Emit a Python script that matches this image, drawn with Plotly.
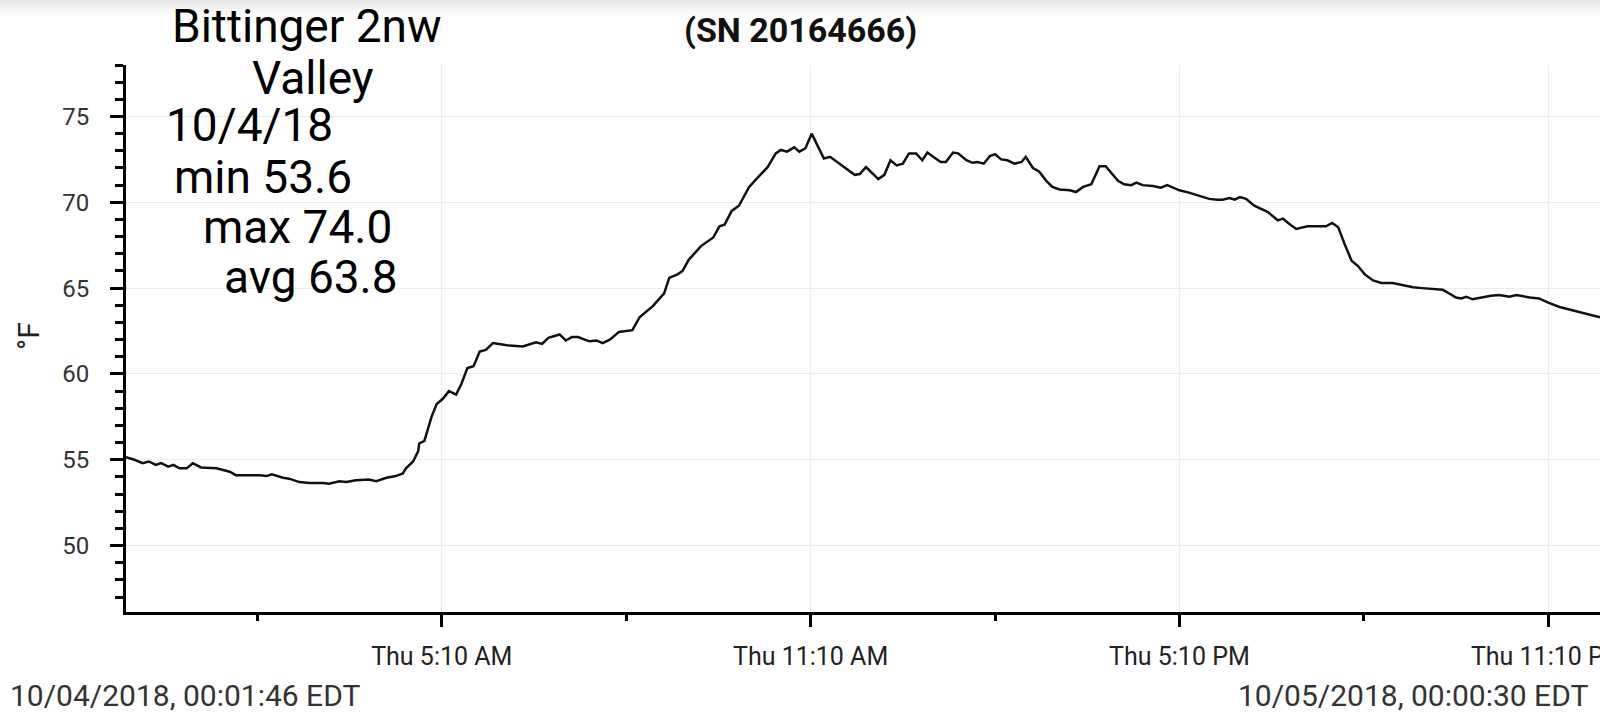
import pandas as pd
import plotly.graph_objects as go

# minutes after midnight on 10/04/2018, and logged temperature (°F)
minutes = [1.77, 10, 18, 24, 31, 36, 43, 48, 54, 61, 67, 75, 90, 96, 103, 109, 132, 139, 144, 155,
           161, 171, 181, 194, 200, 210, 217, 226, 239, 246, 256, 265, 272, 275, 282, 287, 288, 293,
           300, 305, 311, 317, 324, 329, 335, 341, 347, 353, 360, 366, 376, 389, 402, 408, 414, 425,
           431, 437, 443, 454, 461, 467, 474, 483, 496, 503, 516, 527, 532, 540, 545, 551, 563, 575,
           581, 586, 593, 600, 610, 617, 628, 636, 641, 647, 654, 659, 665, 671, 683, 689, 695, 713,
           718, 724, 731, 736, 742, 748, 754, 760, 766, 773, 779, 784, 791, 797, 802, 809, 814, 822,
           828, 833, 839, 845, 850, 856, 862, 869, 876, 880, 887, 893, 900, 906, 913, 923, 929, 936,
           944, 952, 958, 963, 970, 976, 983, 988, 994, 1004, 1012, 1018, 1030, 1040, 1050, 1059,
           1067, 1072, 1079, 1084, 1089, 1095, 1103, 1111, 1116, 1126, 1131, 1137, 1144, 1155, 1173,
           1179, 1185, 1191, 1198, 1204, 1211, 1219, 1227, 1238, 1245, 1251, 1258, 1267, 1274, 1287,
           1293, 1300, 1305, 1310, 1316, 1324, 1334, 1342, 1352, 1359, 1372, 1381, 1390, 1401, 1414,
           1424, 1433, 1440.5]
temp_f = [55.15, 55.0, 54.8, 54.9, 54.7, 54.8, 54.6, 54.7, 54.5, 54.5, 54.8, 54.55, 54.5, 54.4,
          54.3, 54.1, 54.1, 54.05, 54.15, 53.95, 53.9, 53.7, 53.65, 53.65, 53.6, 53.75, 53.7, 53.8,
          53.85, 53.75, 53.95, 54.05, 54.2, 54.5, 54.9, 55.5, 55.95, 56.1, 57.5, 58.25, 58.55, 59.0,
          58.8, 59.4, 60.35, 60.45, 61.3, 61.4, 61.8, 61.75, 61.65, 61.6, 61.85, 61.75, 62.1, 62.3,
          61.95, 62.15, 62.15, 61.9, 61.95, 61.8, 62.0, 62.45, 62.55, 63.3, 63.95, 64.7, 65.6, 65.8,
          66.0, 66.65, 67.45, 67.95, 68.6, 68.7, 69.5, 69.8, 70.9, 71.35, 72.05, 72.85, 73.05, 72.95,
          73.2, 72.95, 73.15, 74.0, 72.55, 72.65, 72.4, 71.6, 71.65, 72.05, 71.65, 71.35, 71.6, 72.45,
          72.15, 72.25, 72.85, 72.85, 72.45, 72.9, 72.6, 72.35, 72.35, 72.9, 72.85, 72.45, 72.3,
          72.35, 72.25, 72.7, 72.8, 72.5, 72.45, 72.25, 72.35, 72.65, 72.0, 71.8, 71.25, 70.9, 70.75,
          70.7, 70.6, 70.9, 71.05, 72.1, 72.1, 71.75, 71.25, 71.05, 71.0, 71.15, 71.0, 70.95, 70.85,
          71.0, 70.7, 70.55, 70.35, 70.2, 70.15, 70.15, 70.25, 70.15, 70.3, 70.2, 69.8, 69.6, 69.45,
          68.95, 69.05, 68.75, 68.45, 68.6, 68.6, 68.8, 68.55, 67.6, 66.6, 66.3, 65.8, 65.45, 65.3,
          65.3, 65.2, 65.15, 65.05, 65.0, 64.95, 64.9, 64.7, 64.45, 64.4, 64.5, 64.35, 64.45, 64.55,
          64.6, 64.5, 64.6, 64.45, 64.4, 64.15, 63.9, 63.7, 63.55, 63.4, 63.3]

info_lines = ['Bittinger 2nw', 'Valley', '10/4/18', 'min 53.6', 'max 74.0', 'avg 63.8']
serial = '(SN 20164666)'
start_label = '10/04/2018, 00:01:46 EDT'
end_label = '10/05/2018, 00:00:30 EDT'

W, H = 1600, 726
L, R, T, B = 126, 0, 65, 114
pw, ph = W - L - R, H - T - B


def px(x):
    return (x - L) / pw


def py(y):
    return (H - B - y) / ph


times = pd.Timestamp('2018-10-04') + pd.to_timedelta(minutes, unit='min')

fig = go.Figure(go.Scatter(x=times, y=temp_f, mode='lines',
                           line=dict(color='#111111', width=2.5), hoverinfo='x+y'))

fig.update_xaxes(range=['2018-10-04 00:01:46', '2018-10-05 00:00:30'],
                 tick0='2018-10-04 05:10', dtick=6 * 3600 * 1000, tickformat='%a %-I:%M %p',
                 ticks='outside', ticklen=12, tickwidth=3, tickcolor='black',
                 minor=dict(tick0='2018-10-04 02:10', dtick=3 * 3600 * 1000, ticks='outside',
                            ticklen=6, tickwidth=3, tickcolor='black', showgrid=False),
                 showline=True, linecolor='black', linewidth=3,
                 showgrid=True, gridcolor='#ececec', gridwidth=1, zeroline=False,
                 tickfont=dict(family='Roboto', size=25, color='#222'), ticklabelstandoff=8,
                 ticklabeloverflow='allow', automargin=False)
fig.update_yaxes(range=[46.13, 78], tick0=0, dtick=5,
                 ticks='outside', ticklen=13, tickwidth=3, tickcolor='black',
                 minor=dict(dtick=1, ticks='outside', ticklen=8, tickwidth=3,
                            tickcolor='black', showgrid=False),
                 showline=True, linecolor='black', linewidth=3,
                 showgrid=True, gridcolor='#ececec', gridwidth=1, zeroline=False,
                 tickfont=dict(family='Roboto', size=24, color='#333'), ticklabelstandoff=16,
                 automargin=False)

# stacked station / stats text at top left (left x, centre y in pixels)
info_pos = [(170, 26), (250, 78), (164, 125), (172, 177), (201, 227), (222, 277)]
anns = []
for text, (x, y) in zip(info_lines, info_pos):
    anns.append(dict(text=text, x=px(x), y=py(y), xref='paper', yref='paper',
                     xanchor='left', yanchor='middle', showarrow=False,
                     font=dict(family='Roboto', size=46, color='black')))
anns.append(dict(text='<b>' + serial + '</b>', x=px(800), y=py(30), xref='paper', yref='paper',
                 xanchor='center', yanchor='middle', showarrow=False,
                 font=dict(family='Roboto', size=34, color='#111')))
anns.append(dict(text='°F', x=px(28), y=py(336), xref='paper', yref='paper', textangle=-90,
                 xanchor='center', yanchor='middle', showarrow=False,
                 font=dict(family='Roboto', size=30, color='#222')))
anns.append(dict(text=start_label, x=px(8), y=py(695), xref='paper', yref='paper',
                 xanchor='left', yanchor='middle', showarrow=False,
                 font=dict(family='Roboto', size=30, color='#333')))
anns.append(dict(text=end_label, x=px(1590), y=py(695), xref='paper', yref='paper',
                 xanchor='right', yanchor='middle', showarrow=False,
                 font=dict(family='Roboto', size=30, color='#333')))

# faint shadow band at the very top of the screen
shapes = []
for i, c in enumerate(['#e6e6e6', '#ececec', '#f2f2f2', '#f7f7f7', '#fbfbfb']):
    shapes.append(dict(type='rect', xref='paper', yref='paper', x0=px(0), x1=px(W),
                       y0=py(3 * i + 3), y1=py(3 * i), fillcolor=c, line_width=0, layer='below'))

fig.update_layout(width=W, height=H, margin=dict(l=L, r=R, t=T, b=B),
                  paper_bgcolor='white', plot_bgcolor='white', showlegend=False,
                  annotations=anns, shapes=shapes)

fig.write_html('out.html', config={'displayModeBar': False},
               post_script="document.body.style.margin='0';")
